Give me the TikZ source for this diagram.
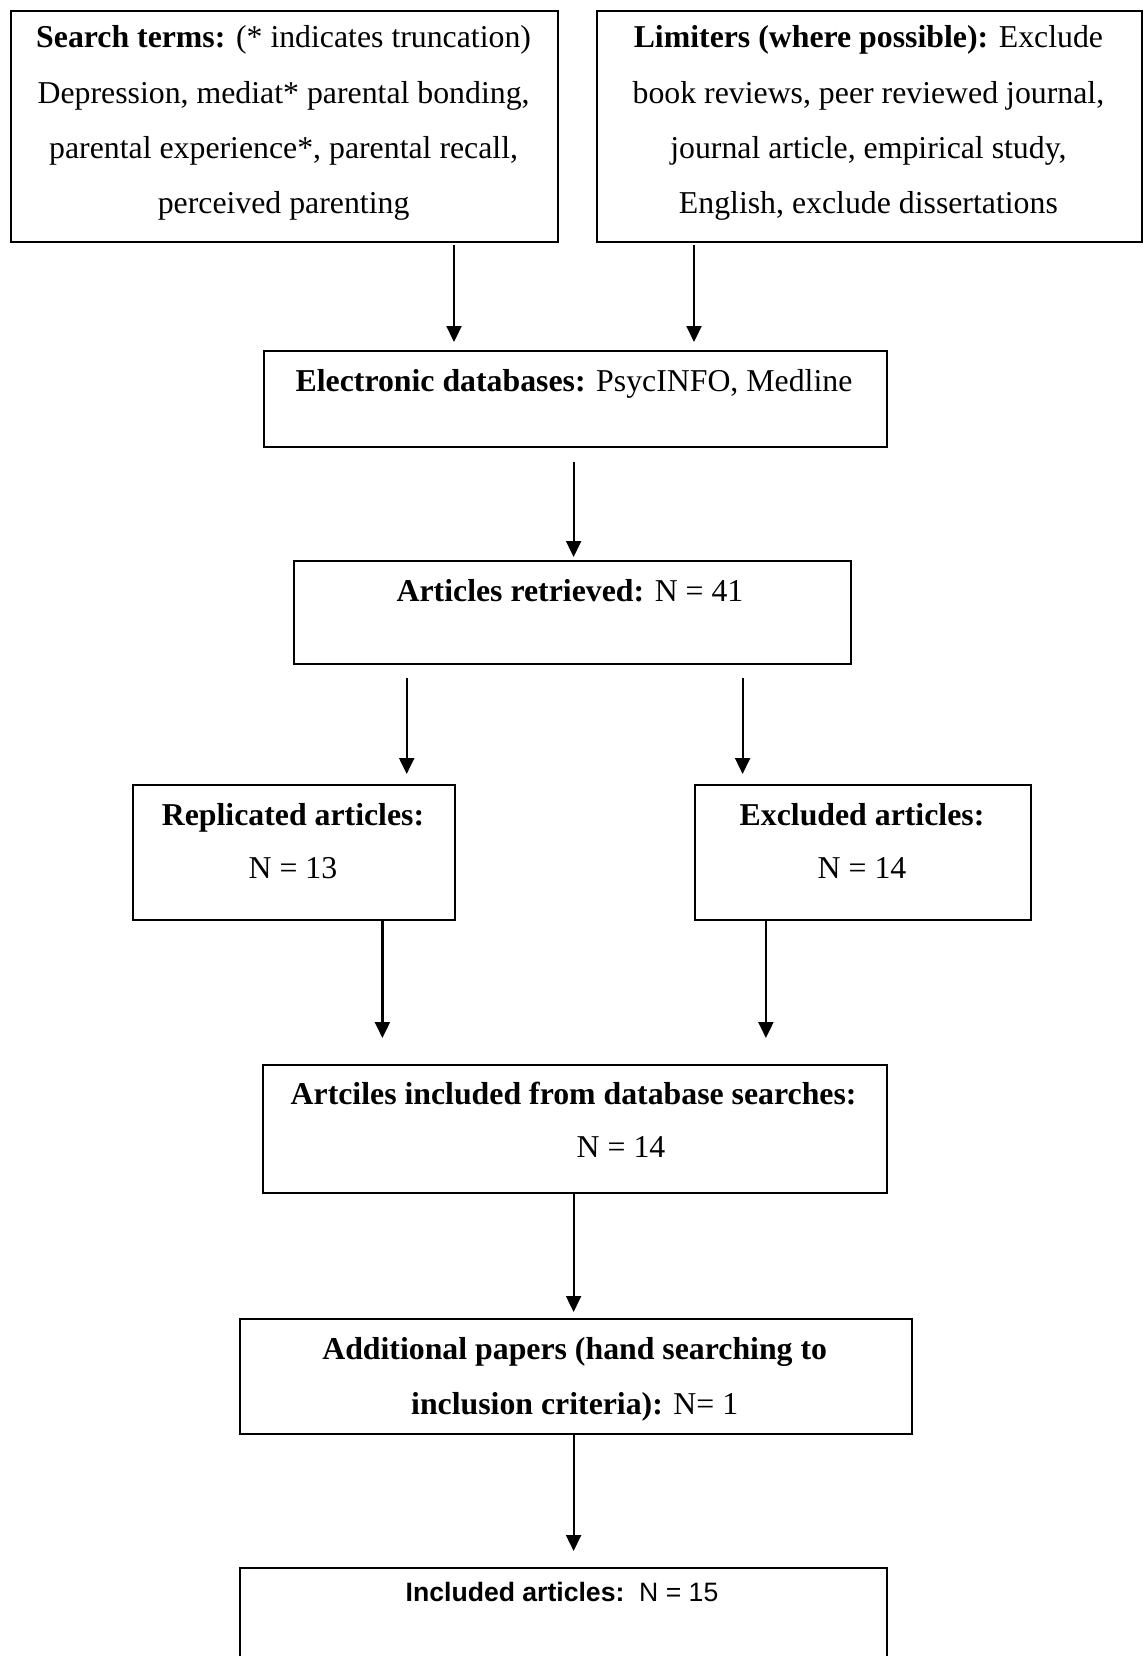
\documentclass[tikz,border=0pt]{standalone}
\usepackage{fontspec}
\setmainfont{Liberation Serif}
\newfontfamily\arialfont{Liberation Sans}
\usetikzlibrary{arrows.meta}
\begin{document}
\begin{tikzpicture}[x=1pt,y=-1pt,
  box/.style={draw, line width=2pt, inner sep=0pt, anchor=north west},
  txt/.style={anchor=base, inner sep=0pt, font=\fontsize{31.8}{36}\selectfont},
  stxt/.style={anchor=base, inner sep=0pt, font=\arialfont\fontsize{26.6}{32}\selectfont},
  arr/.style={line width=2.2pt, -{Triangle[length=16pt,width=15pt]}}]
\useasboundingbox (0,0) rectangle (1143,1656);
\clip (0,0) rectangle (1143,1656);
% boxes
\node[box, minimum width=546.5pt, minimum height=231pt] (b1) at (10,10) {};
\node[box, minimum width=545pt, minimum height=231pt] (b2) at (595.8,10) {};
\node[box, minimum width=623.5pt, minimum height=96pt] (b3) at (262.5,350) {};
\node[box, minimum width=557.8pt, minimum height=103.4pt] (b4) at (292.6,560) {};
\node[box, minimum width=322.3pt, minimum height=135.2pt] (b5) at (132,783.8) {};
\node[box, minimum width=336pt, minimum height=135.2pt] (b6) at (694,783.8) {};
\node[box, minimum width=624pt, minimum height=127.8pt] (b7) at (262,1063.8) {};
\node[box, minimum width=671.9pt, minimum height=114.1pt] (b8) at (238.7,1318.4) {};
\node[box, minimum width=647.6pt, minimum height=150pt] (b9) at (238.7,1566.6) {};
% texts
\node[txt] (t1a) at (283.6,48) {\textbf{Search terms:} (* indicates truncation)};
\node[txt] (t1b) at (283.6,103.3) {Depression, mediat* parental bonding,};
\node[txt] (t1c) at (283.6,158.6) {parental experience*, parental recall,};
\node[txt] (t1d) at (283.6,213.9) {perceived parenting};
\node[txt] (t2a) at (868.4,48) {\textbf{Limiters (where possible):} Exclude};
\node[txt] (t2b) at (868.4,103.3) {book reviews, peer reviewed journal,};
\node[txt] (t2c) at (868.4,158.6) {journal article, empirical study,};
\node[txt] (t2d) at (868.4,213.9) {English, exclude dissertations};
\node[txt] (t3) at (574,391.7) {\textbf{Electronic databases:} PsycINFO, Medline};
\node[txt] (t4) at (570,601) {\textbf{Articles retrieved:} N = 41};
\node[txt] (t5a) at (293,825) {\textbf{Replicated articles:}};
\node[txt] (t5b) at (293,878) {N = 13};
\node[txt] (t6a) at (862,825) {\textbf{Excluded articles:}};
\node[txt] (t6b) at (862,878) {N = 14};
\node[txt] (t7a) at (573.6,1104) {\textbf{Artciles included from database searches:}};
\node[txt] (t7b) at (621,1157.5) {N = 14};
\node[txt] (t8a) at (574.7,1359.5) {\textbf{Additional papers (hand searching to}};
\node[txt] (t8b) at (574.7,1414.5) {\textbf{inclusion criteria):} N= 1};
\node[stxt] (t9) at (562,1601.5) {\textbf{Included articles:}\ \ N = 15};
% arrow end points
\coordinate (a1s) at (454,245);   \coordinate (a1e) at (454,342);
\coordinate (a2s) at (694,245);   \coordinate (a2e) at (694,342);
\coordinate (a3s) at (573.6,461.6); \coordinate (a3e) at (573.6,557);
\coordinate (a4s) at (406.7,678); \coordinate (a4e) at (406.7,774);
\coordinate (a5s) at (742.6,678); \coordinate (a5e) at (742.6,774);
\coordinate (a6e) at (382.4,1038);
\coordinate (a7e) at (765.9,1038);
\coordinate (a8e) at (573.6,1312);
\coordinate (a9e) at (573.6,1551);
% connectors
\draw[arr] (a1s) -- (a1e);
\draw[arr] (a2s) -- (a2e);
\draw[arr] (a3s) -- (a3e);
\draw[arr] (a4s) -- (a4e);
\draw[arr] (a5s) -- (a5e);
\draw[arr] (b5.south -| a6e) -- (a6e);
\draw[arr] (b6.south -| a7e) -- (a7e);
\draw[arr] (b7.south -| a8e) -- (a8e);
\draw[arr] (b8.south -| a9e) -- (a9e);
\end{tikzpicture}
\end{document}
